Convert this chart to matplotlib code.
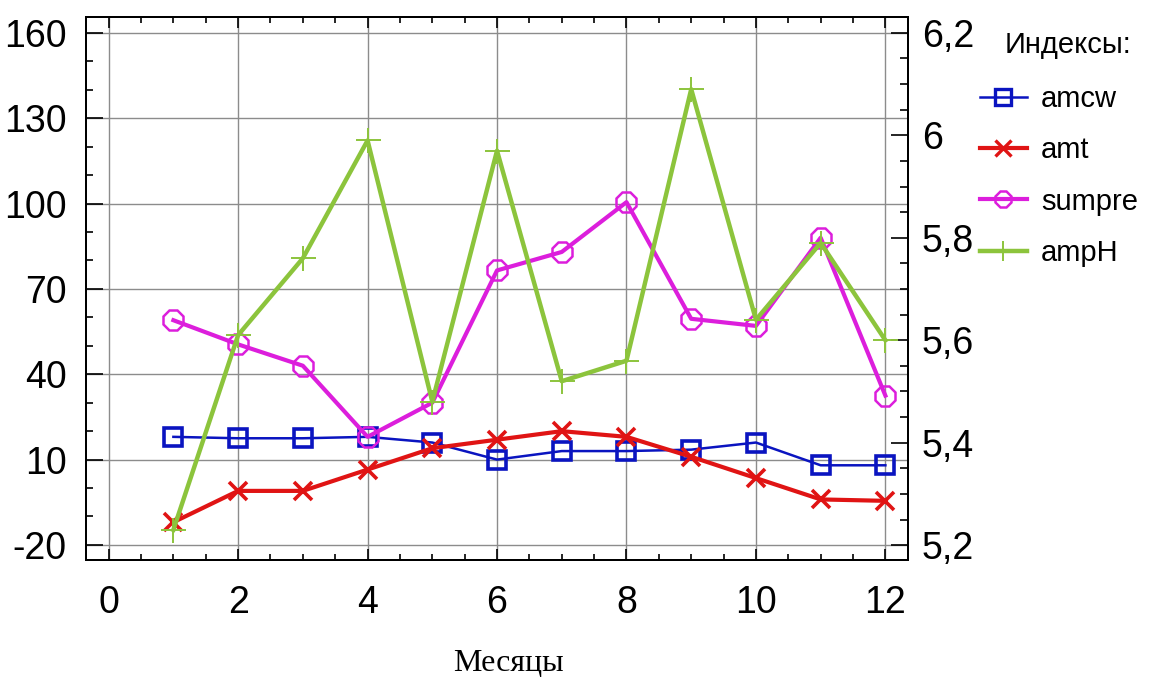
import matplotlib
matplotlib.use("Agg")
import matplotlib.pyplot as plt
from matplotlib.ticker import MultipleLocator, FixedLocator, FuncFormatter
from matplotlib.lines import Line2D

plt.rcParams["font.family"] = ["Liberation Sans", "DejaVu Sans"]
plt.rcParams["axes.unicode_minus"] = False

months = [1, 2, 3, 4, 5, 6, 7, 8, 9, 10, 11, 12]
amcw = [18, 17.5, 17.5, 18, 16, 10, 13, 13, 13.5, 16, 8, 8]
amt = [-12, -1, -1, 6.5, 14, 17, 20, 18, 11, 3.5, -4, -4.5]
sumpre = [59, 50.5, 43, 18, 30, 76.5, 83, 100.5, 59.5, 57, 88, 32.5]
amph = [5.23, 5.61, 5.76, 5.99, 5.48, 5.97, 5.52, 5.56, 6.09, 5.64, 5.79, 5.60]
left_ticks = [-20, 10, 40, 70, 100, 130, 160]

c_blue, c_red, c_mag, c_green = "#0a14c0", "#e01414", "#dc1edc", "#8cc43c"

fig = plt.figure(figsize=(11.56, 6.77), dpi=100)
ax = fig.add_axes([0.0744, 0.1728, 0.7111, 0.8021])
ax2 = ax.twinx()

ax.plot(months, amcw, color=c_blue, lw=1.8, marker="s", ms=13, mfc="none", mec=c_blue, mew=2.6, zorder=3)
ax.plot(months, amt, color=c_red, lw=3, marker="x", ms=13, mew=2.6, zorder=3)
ax.plot(months, sumpre, color=c_mag, lw=3, marker="8", ms=16, mfc="none", mec=c_mag, mew=1.8, zorder=3)
ax2.plot(months, amph, color=c_green, lw=3.2, marker="+", ms=18, mew=1.4)

ax.set_xlim(-0.35, 12.35)
ax.set_ylim(-25.3, 165.6)
ax2.set_ylim(5.171, 6.231)

ax.xaxis.set_major_locator(MultipleLocator(2))
ax.xaxis.set_minor_locator(MultipleLocator(0.5))
ax.yaxis.set_major_locator(FixedLocator(left_ticks))
ax.yaxis.set_minor_locator(MultipleLocator(10))
ax2.yaxis.set_major_locator(MultipleLocator(0.2))
ax2.yaxis.set_minor_locator(MultipleLocator(0.05))


def comma_fmt(v, pos):
    s = f"{v:.1f}".rstrip("0").rstrip(".")
    return s.replace(".", ",")


ax2.yaxis.set_major_formatter(FuncFormatter(comma_fmt))

ax.grid(True, which="major", color="#8c8c8c", lw=1)
ax.tick_params(axis="y", which="major", direction="in", length=12, width=1.2, labelsize=27, pad=14, right=False)
ax.tick_params(axis="y", which="minor", direction="in", length=5, width=1.2, right=False)
ax.tick_params(axis="x", which="major", direction="in", length=8, width=1.2, labelsize=27, pad=18, top=True)
ax.tick_params(axis="x", which="minor", direction="in", length=4, width=1.2, top=True)
ax2.tick_params(axis="y", which="major", direction="in", length=12, width=1.2, labelsize=27, pad=10)
ax2.tick_params(axis="y", which="minor", direction="in", length=6, width=1.2)

for a in (ax, ax2):
    for sp in a.spines.values():
        sp.set_linewidth(1.4)

fig.text(508 / 1156, 6 / 677, "Месяцы", family=["Liberation Serif", "DejaVu Serif"],
         fontsize=23, ha="center", va="baseline")

handles = [
    Line2D([], [], color=c_blue, lw=1.8, marker="s", ms=11, mfc="none", mec=c_blue, mew=2.4),
    Line2D([], [], color=c_red, lw=3, marker="x", ms=11, mew=2.4),
    Line2D([], [], color=c_mag, lw=3, marker="8", ms=13, mfc="none", mec=c_mag, mew=1.8),
    Line2D([], [], color=c_green, lw=3.2, marker="+", ms=15, mew=1.4),
]
fig.text(1005 / 1156, 1 - 45 / 677, "Индексы:", fontsize=21, va="center", ha="left")
fig.legend(handles, ["amcw", "amt", "sumpre", "ampH"], loc="upper left",
           bbox_to_anchor=(980 / 1156, 1 - 85 / 677), frameon=False, fontsize=21,
           handlelength=1.6, handletextpad=0.5, labelspacing=0.8, borderpad=0,
           borderaxespad=0)

fig.savefig("out.png", dpi=100)
